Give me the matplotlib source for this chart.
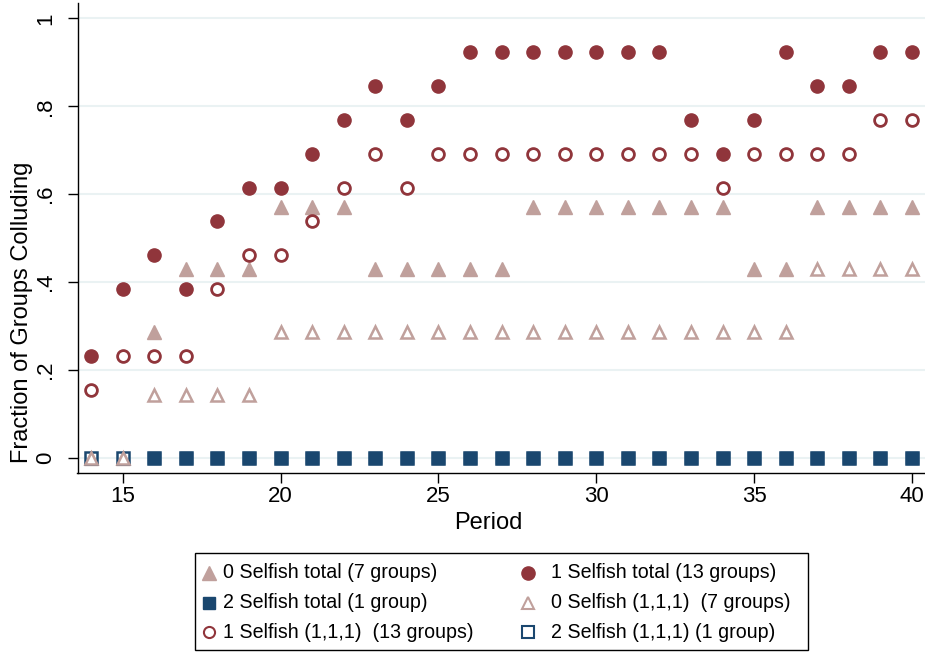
import numpy as np
import matplotlib
matplotlib.use("Agg")
import matplotlib.pyplot as plt
from matplotlib.lines import Line2D
from matplotlib.patches import Rectangle

plt.rcParams['font.family'] = ['Liberation Sans', 'DejaVu Sans']

# ── Données ───────────────────────────────────────────────────
periods = list(range(14, 41))

# 1 Selfish total (13 groups)
sel1_total = [0.231, 0.385, 0.462, 0.385, 0.538, 0.615, 0.615, 0.692, 0.769,
              0.846, 0.769, 0.846, 0.923, 0.923, 0.923, 0.923, 0.923, 0.923,
              0.923, 0.769, 0.692, 0.769, 0.923, 0.846, 0.846, 0.923, 0.923]
# 1 Selfish (1,1,1) (13 groups)
sel1_111 = [0.154, 0.231, 0.231, 0.231, 0.385, 0.462, 0.462, 0.538, 0.615,
            0.692, 0.615, 0.692, 0.692, 0.692, 0.692, 0.692, 0.692, 0.692,
            0.692, 0.692, 0.615, 0.692, 0.692, 0.692, 0.692, 0.769, 0.769]
# 0 Selfish total (7 groups)
sel0_total = [0.0, 0.0, 0.286, 0.429, 0.429, 0.429, 0.571, 0.571, 0.571,
              0.429, 0.429, 0.429, 0.429, 0.429, 0.571, 0.571, 0.571, 0.571,
              0.571, 0.571, 0.571, 0.429, 0.429, 0.571, 0.571, 0.571, 0.571]
# 0 Selfish (1,1,1) (7 groups)
sel0_111 = [0.0, 0.0, 0.143, 0.143, 0.143, 0.143, 0.286, 0.286, 0.286,
            0.286, 0.286, 0.286, 0.286, 0.286, 0.286, 0.286, 0.286, 0.286,
            0.286, 0.286, 0.286, 0.286, 0.286, 0.429, 0.429, 0.429, 0.429]
# 2 Selfish total (1 group) -- pas de point en 14 et 15
sel2_total = [np.nan, np.nan] + [0.0] * 25
# 2 Selfish (1,1,1) (1 group)
sel2_111 = [0.0] * 27

legend_labels = [
    "0 Selfish total (7 groups)",
    "1 Selfish total (13 groups)",
    "2 Selfish total (1 group)",
    "0 Selfish (1,1,1)  (7 groups)",
    "1 Selfish (1,1,1)  (13 groups)",
    "2 Selfish (1,1,1) (1 group)",
]

MAROON = "#90353B"
ROSE = "#C0A09C"
NAVY = "#1A476F"
GRID = "#EAF2F3"

W, H = 925, 653
fig = plt.figure(figsize=(W / 100, H / 100), dpi=100)
ax = fig.add_axes([77.5 / W, 1 - 472.5 / H, (W - 77.5) / W, (472.5 - 3) / H])

# styles des 6 séries (même ordre que legend_labels)
styles = [
    dict(marker="^", ms=10.5, color=ROSE, mec=ROSE),
    dict(marker="o", ms=9.5, color=MAROON, mec=MAROON),
    dict(marker="s", ms=9, color=NAVY, mec=NAVY),
    dict(marker="^", ms=9, mfc="white", mec=ROSE, mew=1.8, color=ROSE),
    dict(marker="o", ms=8.5, mfc="white", mec=MAROON, mew=2.0, color=MAROON),
    dict(marker="s", ms=9, mfc="none", mec=NAVY, mew=1.8, color=NAVY),
]
series = [sel0_total, sel1_total, sel2_total, sel0_111, sel1_111, sel2_111]
zorders = [3, 3, 3, 5, 5, 4]
for ys, st, z in zip(series, styles, zorders):
    ax.plot(periods, ys, ls="none", zorder=z, **st)

ax.set_xlim(13.57, 40.41)
ax.set_ylim(-0.033, 1.035)
ax.set_xticks([15, 20, 25, 30, 35, 40])
ax.set_yticks([0, 0.2, 0.4, 0.6, 0.8, 1.0])
ax.set_yticklabels(["0", ".2", ".4", ".6", ".8", "1"], rotation=90, va="center")
ax.tick_params(axis="both", labelsize=16, length=7.5, width=1, direction="out")
ax.tick_params(axis="x", pad=2)
ax.tick_params(axis="y", pad=8)
ax.yaxis.grid(True, color=GRID, lw=1.5)
ax.set_axisbelow(True)
for s in ["top", "right"]:
    ax.spines[s].set_visible(False)
for s in ["left", "bottom"]:
    ax.spines[s].set_linewidth(1.0)

fig.text(488 / W, 1 - 523 / H, "Period", ha="center", va="center", fontsize=17)
fig.text(22 / W, 1 - 312 / H, "Fraction of Groups Colluding", ha="center", va="center",
         rotation=90, fontsize=17)

# ── légende dessinée à la main (2 colonnes, remplie par lignes) ──
fig.add_artist(Rectangle((195 / W, 1 - 650 / H), (808 - 195) / W, (650 - 553) / H,
                         transform=fig.transFigure, fill=False, ec="black", lw=1.0))
mark_x = [209, 528]
text_x = [223, 551]
row_y = [573, 603, 632]
leg_sizes = [10, 9.5, 9, 9, 8, 8.5]
for k, (lab, st) in enumerate(zip(legend_labels, styles)):
    col, row = k % 2, k // 2
    st = dict(st)
    st["ms"] = leg_sizes[k]
    if "mew" in st:
        st["mew"] = 1.5
    fig.add_artist(Line2D([mark_x[col] / W], [1 - row_y[row] / H], ls="none",
                          transform=fig.transFigure, **st))
    fig.text(text_x[col] / W, 1 - row_y[row] / H, lab, ha="left", va="center", fontsize=14.1)

fig.savefig("out.png", dpi=100)
